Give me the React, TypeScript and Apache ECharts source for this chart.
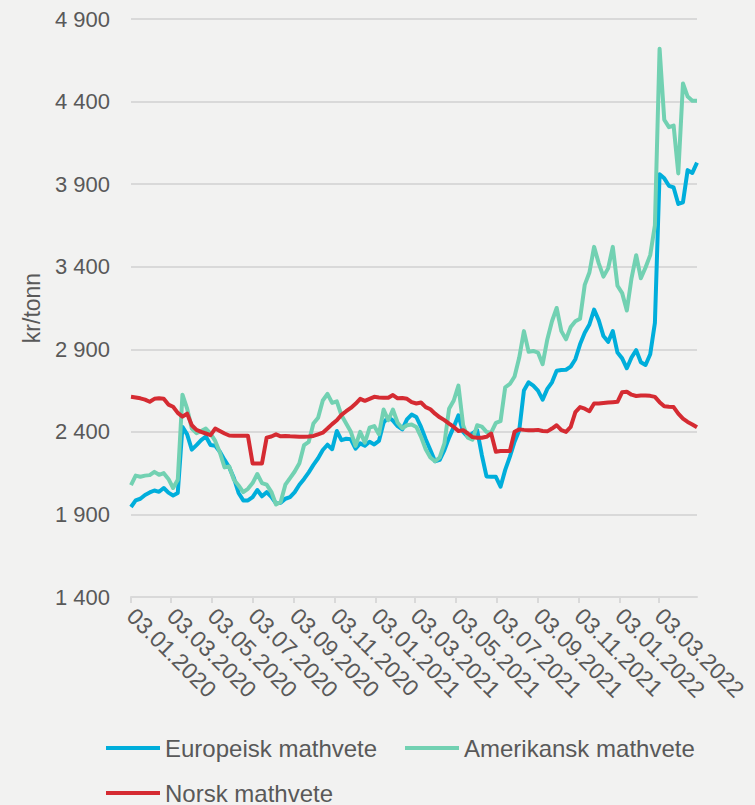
import React, { useEffect, useRef } from "react";
import * as echarts from "echarts";

const START_DATE = "2020-01-03";
const END_DATE = "2022-04-29";
const WEEK_STEP_DAYS = 7;

const tickLabels = [
  "03.01.2020", "03.03.2020", "03.05.2020", "03.07.2020", "03.09.2020", "03.11.2020",
  "03.01.2021", "03.03.2021", "03.05.2021", "03.07.2021", "03.09.2021", "03.11.2021",
  "03.01.2022", "03.03.2022",
];

const seriesNames = ["Europeisk mathvete", "Amerikansk mathvete", "Norsk mathvete"];

const europeisk = [
  1945, 1985, 1995, 2018, 2033, 2045, 2037, 2060, 2032, 2015,
  2030, 2430, 2385, 2292, 2320, 2350, 2372, 2320, 2316, 2280,
  2230, 2185, 2120, 2030, 1985, 1985, 2005, 2048, 2010, 2035,
  2007, 1967, 1970, 1995, 2005, 2035, 2080, 2115, 2155, 2200,
  2240, 2290, 2322, 2295, 2405, 2350, 2358, 2355, 2298, 2330,
  2316, 2340, 2324, 2345, 2455, 2490, 2468, 2435, 2415, 2475,
  2505, 2490, 2430, 2355, 2290, 2222, 2230, 2290, 2365, 2430,
  2500, 2400, 2370, 2390, 2410, 2260, 2130, 2128, 2128, 2068,
  2170, 2250, 2340, 2410, 2650, 2700, 2680, 2650, 2595, 2660,
  2700, 2770, 2774, 2776, 2795, 2840, 2930, 3000, 3050, 3140,
  3075, 2980, 2945, 3010, 2880, 2845, 2785, 2850, 2895, 2822,
  2805, 2870, 3060, 3960, 3935, 3890, 3880, 3780, 3790, 3985,
  3968, 4030,
];

const amerikansk = [
  2078, 2135, 2128, 2135, 2138, 2158, 2140, 2150, 2115, 2060,
  2110, 2625, 2540, 2420, 2392, 2405, 2420, 2390, 2345, 2275,
  2185, 2190, 2110, 2075, 2035, 2055, 2090, 2145, 2090, 2080,
  2037, 1960, 1975, 2080, 2120, 2160, 2210, 2320, 2340, 2450,
  2485, 2590, 2630, 2575, 2585, 2500, 2450, 2400, 2315, 2400,
  2335, 2425, 2435, 2385, 2535, 2470, 2535, 2455, 2422, 2440,
  2445, 2430, 2370, 2295, 2245, 2222, 2245, 2330, 2540, 2590,
  2680, 2440, 2365, 2352, 2440, 2432, 2400, 2395, 2455, 2465,
  2670, 2690, 2735, 2850, 3010, 2885, 2890, 2880, 2810, 2960,
  3070, 3150, 3010, 2960, 3035, 3070, 3085, 3290, 3365, 3520,
  3420, 3340, 3390, 3520, 3285, 3240, 3135, 3330, 3470, 3330,
  3395, 3470, 3650, 4720, 4290, 4245, 4255, 3965, 4510, 4430,
  4405, 4405,
];

const norsk = [
  2612, 2608, 2603, 2595, 2582, 2600, 2603, 2600, 2565, 2552,
  2515, 2492, 2510, 2440, 2412, 2400, 2390, 2380, 2420, 2405,
  2390, 2378, 2376, 2376, 2376, 2376, 2209, 2209, 2209, 2365,
  2372, 2385, 2373, 2375, 2373, 2372, 2370, 2370, 2372, 2375,
  2385, 2395, 2420, 2447, 2470, 2503, 2525, 2545, 2570, 2600,
  2588, 2600, 2612, 2608, 2606, 2606, 2623, 2603, 2605, 2600,
  2580, 2572, 2578, 2550, 2537, 2510, 2488, 2471, 2450, 2430,
  2405, 2410, 2390, 2368, 2364, 2364, 2370, 2390, 2280, 2284,
  2284, 2284, 2401, 2415, 2412, 2410, 2410, 2412, 2405, 2403,
  2420, 2440, 2410, 2400, 2430, 2520, 2550, 2540, 2525, 2572,
  2572, 2575, 2578, 2580, 2582, 2640, 2643, 2625, 2617, 2620,
  2620, 2618, 2612, 2580, 2555, 2552, 2550, 2510, 2480, 2460,
  2445, 2428,
];

const seriesColors = ["#00AEDB", "#72D1B2", "#D52B32"];

const DAY = 86400000;
const startTs = Date.parse(START_DATE + "T00:00:00Z");
const endTs = Date.parse(END_DATE + "T00:00:00Z");

function labelToTs(s: string): number {
  const [d, m, y] = s.split(".").map(Number);
  return Date.UTC(y, m - 1, d);
}
function tsToLabel(ts: number): string {
  const dt = new Date(ts);
  const dd = String(dt.getUTCDate()).padStart(2, "0");
  const mm = String(dt.getUTCMonth() + 1).padStart(2, "0");
  return `${dd}.${mm}.${dt.getUTCFullYear()}`;
}
function toPairs(values: number[]): [number, number][] {
  return values.map((v, i) => [i * WEEK_STEP_DAYS, v]);
}

const tickDays = tickLabels.map((s) => (labelToTs(s) - startTs) / DAY);
const maxDay = (endTs - startTs) / DAY;

export default function App() {
  const ref = useRef<HTMLDivElement>(null);
  useEffect(() => {
    if (!ref.current) return;
    const chart = echarts.init(ref.current, null, { renderer: "svg" });
    const font = "Arial, 'Liberation Sans', sans-serif";
    const textColor = "#595959";
    const legendBase = {
      orient: "horizontal",
      icon: "rect",
      itemWidth: 54,
      itemHeight: 4,
      itemGap: 20,
      padding: 0,
      textStyle: { color: textColor, fontSize: 24, fontFamily: font, lineHeight: 24 },
      selectedMode: false,
    };
    chart.setOption({
      animation: false,
      backgroundColor: "#F2F2F1",
      textStyle: { fontFamily: font },
      grid: { left: 131, right: 58, top: 19, bottom: 208, containLabel: false },
      legend: [
        { ...legendBase, data: [seriesNames[0]], left: 106, top: 736 },
        { ...legendBase, data: [seriesNames[1]], left: 405, top: 736 },
        { ...legendBase, data: [seriesNames[2]], left: 106, top: 781 },
      ],
      xAxis: {
        type: "value",
        min: 0,
        max: maxDay,
        splitLine: { show: false },
        axisLine: { show: true, lineStyle: { color: "#D9D9D9", width: 2 } },
        axisTick: {
          show: true,
          customValues: tickDays,
          length: 6,
          lineStyle: { color: "#D9D9D9", width: 2 },
        },
        axisLabel: {
          customValues: tickDays,
          rotate: -45,
          margin: 15,
          color: textColor,
          fontSize: 23,
          fontFamily: font,
          formatter: (v: number) => tsToLabel(startTs + v * DAY),
        },
      },
      yAxis: {
        type: "value",
        min: 1400,
        max: 4900,
        interval: 500,
        name: "kr/tonn",
        nameLocation: "middle",
        nameRotate: 90,
        nameGap: 88,
        nameTextStyle: { color: textColor, fontSize: 23, fontFamily: font },
        axisLine: { show: false },
        axisTick: { show: false },
        splitLine: { lineStyle: { color: "#D9D9D9", width: 2 } },
        axisLabel: {
          color: textColor,
          fontSize: 22,
          fontFamily: font,
          margin: 21,
          formatter: (v: number) => String(v).replace(/\B(?=(\d{3})+(?!\d))/g, " "),
        },
      },
      series: [europeisk, amerikansk, norsk].map((vals, k) => ({
        name: seriesNames[k],
        type: "line",
        data: toPairs(vals),
        showSymbol: false,
        symbol: "none",
        lineStyle: { color: seriesColors[k], width: 4, join: "round" },
        itemStyle: { color: seriesColors[k] },
      })),
    });
    return () => chart.dispose();
  }, []);
  return (
    <div
      ref={ref}
      style={{ position: "absolute", left: 0, top: 0, width: 755, height: 805 }}
    />
  );
}
